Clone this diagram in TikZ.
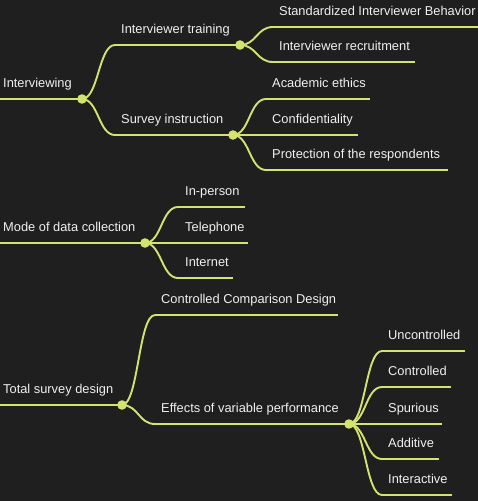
\documentclass[tikz,border=0pt]{standalone}
\usepackage{fontspec}
\setmainfont{Liberation Sans}
\definecolor{bg}{HTML}{1F1F1F}
\definecolor{ln}{HTML}{D4E26E}
\definecolor{tx}{HTML}{F0F0F0}
\begin{document}
\begin{tikzpicture}[x=1pt,y=-1pt,
  branch/.style={draw=ln,line width=1.9pt},
  link/.style={draw=ln,line width=1.9pt,to path={.. controls +(16.5,0) and +(-16.5,0) .. (\tikztotarget)}},
  dotc/.style={fill=ln},
  lbl/.style={anchor=base west,inner sep=0pt,text=tx,font=\fontsize{12.85}{15}\selectfont}]
\fill[bg] (0,0) rectangle (478,501);
\useasboundingbox (0,0) rectangle (478,501);
% coordinates: s = line start, e = line end
\coordinate (IVs) at (0,99);   \coordinate (IVe) at (82,99);
\coordinate (ITs) at (115,45); \coordinate (ITe) at (240,45);
\coordinate (SBs) at (273,27); \coordinate (SBe) at (478,27);
\coordinate (IRs) at (273,62); \coordinate (IRe) at (415,62);
\coordinate (SIs) at (115,135); \coordinate (SIe) at (233,135);
\coordinate (AEs) at (266,99); \coordinate (AEe) at (370,99);
\coordinate (CFs) at (266,135); \coordinate (CFe) at (358,135);
\coordinate (PRs) at (266,170); \coordinate (PRe) at (448,170);
\coordinate (MDs) at (0,243); \coordinate (MDe) at (145,243);
\coordinate (IPs) at (178,207); \coordinate (IPe) at (245,207);
\coordinate (TLs) at (178,243); \coordinate (TLe) at (248,243);
\coordinate (INs) at (178,278); \coordinate (INe) at (233,278);
\coordinate (TSs) at (0,405); \coordinate (TSe) at (122,405);
\coordinate (CCs) at (155,315); \coordinate (CCe) at (338,315);
\coordinate (EVs) at (155,424); \coordinate (EVe) at (349,424);
\coordinate (UCs) at (382,351); \coordinate (UCe) at (465,351);
\coordinate (COs) at (382,387); \coordinate (COe) at (451,387);
\coordinate (SPs) at (382,424); \coordinate (SPe) at (442,424);
\coordinate (ADs) at (382,459); \coordinate (ADe) at (439,459);
\coordinate (IAs) at (382,495); \coordinate (IAe) at (452,495);
% underlines
\foreach \n in {IV,IT,SB,IR,SI,AE,CF,PR,MD,IP,TL,IN,TS,CC,EV,UC,CO,SP,AD,IA}
  \draw[branch] (\n s) -- (\n e);
% links
\draw[link] (IVe) to (ITs);
\draw[link] (IVe) to (SIs);
\draw[link] (ITe) to (SBs);
\draw[link] (ITe) to (IRs);
\draw[link] (SIe) to (AEs);
\draw[link] (SIe) to (CFs);
\draw[link] (SIe) to (PRs);
\draw[link] (MDe) to (IPs);
\draw[link] (MDe) to (TLs);
\draw[link] (MDe) to (INs);
\draw[link] (TSe) to (CCs);
\draw[link] (TSe) to (EVs);
\draw[link] (EVe) to (UCs);
\draw[link] (EVe) to (COs);
\draw[link] (EVe) to (SPs);
\draw[link] (EVe) to (ADs);
\draw[link] (EVe) to (IAs);
% dots
\foreach \n in {IV,IT,SI,MD,TS,EV}
  \fill[dotc] (\n e) circle (4.8);
% labels
\node[lbl] (IVt) at (3,87) {Interviewing};
\node[lbl] (ITt) at (121,33) {Interviewer training};
\node[lbl] (SBt) at (279,15) {Standardized Interviewer Behavior};
\node[lbl] (IRt) at (279,50) {Interviewer recruitment};
\node[lbl] (SIt) at (121,123) {Survey instruction};
\node[lbl] (AEt) at (272,87) {Academic ethics};
\node[lbl] (CFt) at (272,123) {Confidentiality};
\node[lbl] (PRt) at (272,158) {Protection of the respondents};
\node[lbl] (MDt) at (3,231) {Mode of data collection};
\node[lbl] (IPt) at (185,195) {In-person};
\node[lbl] (TLt) at (185,231) {Telephone};
\node[lbl] (INt) at (185,266) {Internet};
\node[lbl] (TSt) at (3,393) {Total survey design};
\node[lbl] (CCt) at (161,303) {Controlled Comparison Design};
\node[lbl] (EVt) at (161,412) {Effects of variable performance};
\node[lbl] (UCt) at (388,339) {Uncontrolled};
\node[lbl] (COt) at (388,375) {Controlled};
\node[lbl] (SPt) at (388,412) {Spurious};
\node[lbl] (ADt) at (388,447) {Additive};
\node[lbl] (IAt) at (388,483) {Interactive};
\end{tikzpicture}
\end{document}
